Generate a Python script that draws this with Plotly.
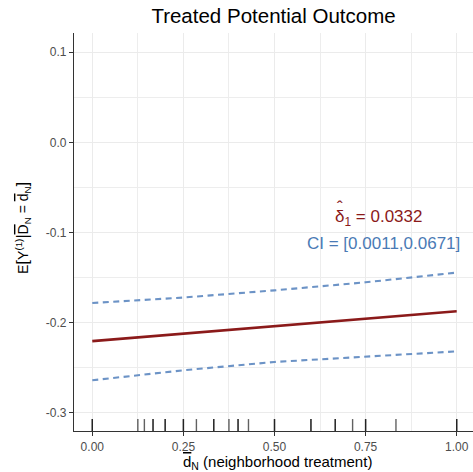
import plotly.graph_objects as go

# ---- data ----
x_grid = [0.0, 0.25, 0.5, 0.75, 1.0]
fit_y = [-0.2206, -0.2123, -0.2040, -0.1957, -0.1874]
upper_y = [-0.1782, -0.1722, -0.1642, -0.1553, -0.1445]
lower_y = [-0.2640, -0.2529, -0.2437, -0.2374, -0.2319]

# rug: observed neighborhood-treatment values (repeats = overlapping marks)
rug_x = [0.0, 0.0, 0.125, 0.1429, 0.1667, 0.1667, 0.2, 0.2, 0.25, 0.25,
         0.2857, 0.3333, 0.3333, 0.375, 0.4, 0.4, 0.4286, 0.5, 0.5,
         0.6, 0.6, 0.6667, 0.6667, 0.7143, 0.75, 0.75, 0.8333, 1.0, 1.0]

x_ticks = [0.0, 0.25, 0.5, 0.75, 1.0]
x_tick_labels = ["0.00", "0.25", "0.50", "0.75", "1.00"]
y_ticks = [0.1, 0.0, -0.1, -0.2, -0.3]
y_tick_labels = ["0.1", "0.0", "-0.1", "-0.2", "-0.3"]

delta_hat = 0.0332
ci = (0.0011, 0.0671)

title_text = "Treated Potential Outcome"
x_title = "<span style='text-decoration:overline'>d</span><sub>N</sub> (neighborhood treatment)"
y_title = ("E<span style='font-size:17px'>[</span>Y<sup>(1)</sup><span style='font-size:16px'>|</span>"
           "<span style='text-decoration:overline'>D</span><sub>N</sub> = "
           "<span style='text-decoration:overline'>d</span><sub>N</sub><span style='font-size:17px'>]</span>")

# ---- layout geometry ----
W, H = 473, 472
L, R, T, B = 74, 0, 33, 41
PW, PH = W - L - R, H - T - B
FONT = "Liberation Sans, Arial, Helvetica, sans-serif"
RED = "#8B1A1A"
BLUE_LINE = "#6C93C6"
BLUE_TEXT = "#4A7AB5"

def xp(px):
    return (px - L) / PW

def yp(py):
    return (T + PH - py) / PH

fig = go.Figure()

for yy in (upper_y, lower_y):
    fig.add_trace(go.Scatter(x=x_grid, y=yy, mode="lines",
                             line=dict(color=BLUE_LINE, width=2.1, dash="6px,4.5px"),
                             showlegend=False, hoverinfo="skip"))
fig.add_trace(go.Scatter(x=x_grid, y=fit_y, mode="lines",
                         line=dict(color=RED, width=2.6),
                         showlegend=False, hoverinfo="skip"))

shapes = []
for rx in rug_x:
    shapes.append(dict(type="line", xref="x", yref="y domain", x0=rx, x1=rx,
                       y0=0, y1=0.03, line=dict(color="rgba(0,0,0,0.62)", width=1.4),
                       layer="above"))

annotations = [
    dict(text="δ<sub>1</sub> = %.4f" % delta_hat, xref="x", yref="y",
         x=0.785, y=-0.0838, showarrow=False, xanchor="center", yanchor="middle",
         font=dict(family=FONT, size=17, color=RED)),
    # hat over delta
    dict(text="\u02c6", xref="x", yref="y",
         x=0.679, y=-0.0838, yshift=10, showarrow=False, xanchor="center", yanchor="middle",
         font=dict(family=FONT, size=17, color=RED)),
    dict(text="CI = [%.4f,%.4f]" % ci, xref="x", yref="y",
         x=0.80, y=-0.1125, showarrow=False, xanchor="center", yanchor="middle",
         font=dict(family=FONT, size=17, color=BLUE_TEXT)),
    dict(text=y_title, xref="paper", yref="paper", x=xp(23), y=0.51,
         textangle=-90, showarrow=False, xanchor="center", yanchor="middle",
         font=dict(family=FONT, size=14, color="black")),
    dict(text=x_title, xref="paper", yref="paper", x=xp(277), y=yp(462.5),
         showarrow=False, xanchor="center", yanchor="middle",
         font=dict(family=FONT, size=15, color="black")),
]

fig.update_layout(
    width=W, height=H, autosize=False,
    margin=dict(l=L, r=R, t=T, b=B, pad=0),
    paper_bgcolor="white", plot_bgcolor="white",
    font=dict(family=FONT),
    title=dict(text=title_text, x=0.5, xref="paper", y=1 - 16 / H, yref="container",
               xanchor="center", yanchor="middle",
               font=dict(family=FONT, size=20.5, color="black")),
    shapes=shapes, annotations=annotations, showlegend=False,
)

axis_common = dict(
    showline=True, linecolor="#333333", linewidth=1.2, mirror=False,
    ticks="outside", ticklen=4, tickcolor="#333333", tickwidth=1.1,
    tickfont=dict(family=FONT, size=12, color="#4D4D4D"),
    showgrid=True, gridcolor="#EBEBEB", gridwidth=1.1, zeroline=False,
)

fig.update_xaxes(range=[-0.0502, 1.0447], tickvals=x_ticks, ticktext=x_tick_labels,
                 minor=dict(dtick=0.125, tick0=0, showgrid=True, gridcolor="#EDEDED",
                            gridwidth=0.6, ticks=""),
                 **axis_common)
fig.update_yaxes(range=[-0.3203, 0.1214], tickvals=y_ticks, ticktext=y_tick_labels,
                 minor=dict(dtick=0.05, tick0=0, showgrid=True, gridcolor="#EDEDED",
                            gridwidth=0.6, ticks=""),
                 **axis_common)

fig.write_html("out.html")
